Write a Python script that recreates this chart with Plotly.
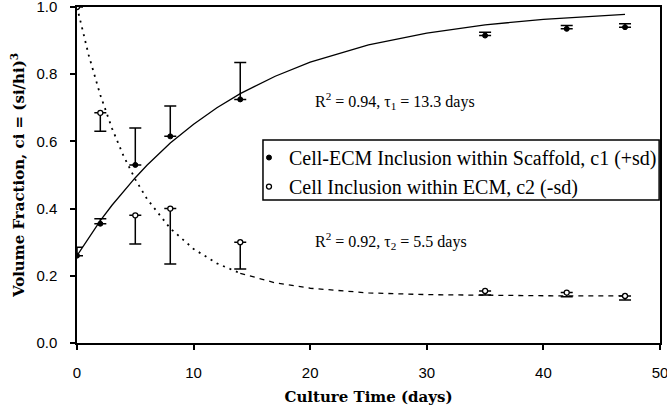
import plotly.graph_objects as go

# measured data
t_meas = [0, 2, 5, 8, 14, 35, 42, 47]
c1_vals = [0.26, 0.355, 0.53, 0.615, 0.725, 0.915, 0.935, 0.94]
c1_sd = [0.025, 0.015, 0.11, 0.09, 0.11, 0.01, 0.01, 0.01]
c2_vals = [1.0, 0.685, 0.38, 0.40, 0.30, 0.155, 0.15, 0.14]
c2_sd = [0.0, 0.055, 0.085, 0.165, 0.08, 0.012, 0.012, 0.012]

# fitted curves
t_fit = [0, 1, 2, 3, 4, 5, 6, 8, 10, 12, 14, 17, 20, 25, 30, 35, 40, 47]
c1_fit = [0.26, 0.314, 0.364, 0.41, 0.452, 0.492, 0.529, 0.595, 0.651, 0.70,
          0.742, 0.794, 0.836, 0.887, 0.922, 0.947, 0.963, 0.978]
c2_fit = [1.0, 0.857, 0.738, 0.639, 0.556, 0.487, 0.429, 0.341, 0.280, 0.237,
          0.2075, 0.179, 0.163, 0.149, 0.144, 0.1413, 0.1406, 0.1402]
split = 10  # index where c2 fit changes from dotted to dashed

x_ticks = [0, 10, 20, 30, 40, 50]
y_ticks = [0.0, 0.2, 0.4, 0.6, 0.8, 1.0]

fig = go.Figure()

fig.add_trace(go.Scatter(x=t_fit, y=c1_fit, mode="lines",
                         line=dict(color="black", width=1.3), showlegend=False))
fig.add_trace(go.Scatter(x=t_fit[:split + 1], y=c2_fit[:split + 1], mode="lines",
                         line=dict(color="black", width=1.8, dash="2px,5px"), showlegend=False))
fig.add_trace(go.Scatter(x=t_fit[split:], y=c2_fit[split:], mode="lines",
                         line=dict(color="black", width=1.3, dash="5px,5px"), showlegend=False))

fig.add_trace(go.Scatter(
    x=t_meas, y=c1_vals, mode="markers",
    name="Cell-ECM Inclusion within Scaffold, c1 (+sd)",
    marker=dict(symbol="circle", size=5, color="black", line=dict(color="black", width=1)),
    error_y=dict(type="data", symmetric=False, array=c1_sd, arrayminus=[0] * len(c1_sd),
                 color="black", thickness=1.5, width=6)))
fig.add_trace(go.Scatter(
    x=t_meas, y=c2_vals, mode="markers",
    name="Cell Inclusion within ECM, c2 (-sd)",
    marker=dict(symbol="circle", size=5, color="white", line=dict(color="black", width=1.3)),
    error_y=dict(type="data", symmetric=False, array=[0] * len(c2_sd), arrayminus=c2_sd,
                 color="black", thickness=1.5, width=6)))

serif = "Liberation Serif"
title_font = "DejaVu Serif"
sans = "Liberation Sans"

fig.add_annotation(x=0.405, y=0.72, xref="paper", yref="y", xanchor="left", yanchor="middle",
                   text="R<sup>2</sup> = 0.94, τ<sub>1</sub> = 13.3 days", showarrow=False,
                   font=dict(family=serif, size=16, color="black"))
fig.add_annotation(x=0.405, y=0.305, xref="paper", yref="y", xanchor="left", yanchor="middle",
                   text="R<sup>2</sup> = 0.92, τ<sub>2</sub> = 5.5 days", showarrow=False,
                   font=dict(family=serif, size=16, color="black"))

# legend frame
fig.add_shape(type="rect", xref="paper", yref="paper", x0=0.319, x1=0.9985, y0=0.4256, y1=0.604,
              line=dict(color="black", width=1.5), fillcolor="white", layer="below")

fig.update_layout(
    width=667, height=409,
    margin=dict(l=76.5, r=7, t=7, b=66, autoexpand=False),
    paper_bgcolor="white", plot_bgcolor="white",
    showlegend=True,
    legend=dict(x=0.295, y=0.61, xanchor="left", yanchor="top",
                bgcolor="rgba(0,0,0,0)", borderwidth=0,
                font=dict(family=serif, size=20, color="black"),
                tracegroupgap=0, itemwidth=30),
    xaxis=dict(range=[0, 50], tickvals=x_ticks, ticktext=[str(v) for v in x_ticks],
               ticks="outside", ticklen=5, tickwidth=1.5, tickcolor="black",
               ticklabelstandoff=10, ticklabeloverflow="allow",
               showline=True, linecolor="black", linewidth=1.5, mirror=True,
               showgrid=False, zeroline=False, automargin=False,
               tickfont=dict(family=sans, size=15, color="black"),
               title=dict(text="<b>Culture Time (days)</b>", standoff=12,
                          font=dict(family=title_font, size=15, color="black"))),
    yaxis=dict(range=[0, 1.0], tickvals=y_ticks, ticktext=[f"{v:.1f}" for v in y_ticks],
               ticks="outside", ticklen=5, tickwidth=1.5, tickcolor="black",
               ticklabelstandoff=10, ticklabeloverflow="allow",
               showline=True, linecolor="black", linewidth=1.5, mirror=True,
               showgrid=False, zeroline=False, automargin=False,
               tickfont=dict(family=sans, size=15, color="black"),
               title=dict(text="<b>Volume Fraction, ci = (si/hi)<sup>3</sup></b>", standoff=8,
                          font=dict(family=title_font, size=15, color="black"))),
)

fig.write_html("out.html", config={"displayModeBar": False},
               post_script="document.body.style.margin='0';document.body.style.overflow='hidden';")
